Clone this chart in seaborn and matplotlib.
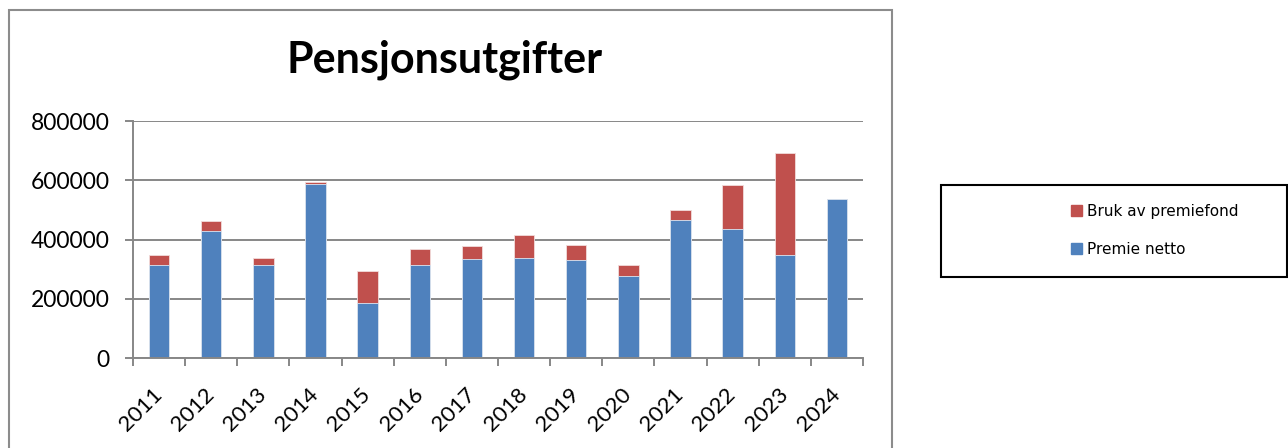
import matplotlib
matplotlib.use('Agg')
import matplotlib.pyplot as plt
from matplotlib.patches import Rectangle, Patch
from matplotlib.ticker import FixedLocator
import seaborn as sns
import pandas as pd

# data
years = ['2011', '2012', '2013', '2014', '2015', '2016', '2017',
         '2018', '2019', '2020', '2021', '2022', '2023', '2024']
premie_netto = [314000, 429000, 315000, 587000, 186000, 314000, 335000,
                338000, 331000, 276000, 465000, 436000, 346000, 537000]
bruk_av_premiefond = [32000, 35000, 23000, 7000, 108000, 53000, 42000,
                      76000, 49000, 37000, 34000, 147000, 346000, 0]

blue = '#4F81BD'
red = '#C0504D'
grey = '#878787'

df = pd.DataFrame({
    'year': years,
    'netto': premie_netto,
    'fond': bruk_av_premiefond,
})
df['total'] = df['netto'] + df['fond']

sns.set_style('white')
plt.rcParams['font.family'] = ['Lato', 'DejaVu Sans']
plt.rcParams['text.color'] = 'black'
plt.rcParams['xtick.color'] = 'black'
plt.rcParams['ytick.color'] = 'black'

fig = plt.figure(figsize=(12.88, 4.48), dpi=100)
ax = fig.add_axes([133 / 1288, 1 - 358 / 448, 730 / 1288, 237 / 448])

# stacked bars: total (red) behind, netto (blue) on top
sns.barplot(data=df, x='year', y='total', color=red, width=0.39,
            saturation=1, edgecolor='#f2dcdb', linewidth=0.6, ax=ax)
sns.barplot(data=df, x='year', y='netto', color=blue, width=0.39,
            saturation=1, edgecolor='#dce6f2', linewidth=0.6, ax=ax)

ax.set_xlim(-0.5, len(years) - 0.5)
ax.set_ylim(0, 800000)
ax.set_yticks([0, 200000, 400000, 600000, 800000])
ax.set_yticklabels(['0', '200000', '400000', '600000', '800000'])
ax.set_xlabel('')
ax.set_ylabel('')

ax.yaxis.grid(True, color=grey, linewidth=1.4)
ax.xaxis.grid(False)
ax.set_axisbelow(True)

for s in ['top', 'right']:
    ax.spines[s].set_visible(False)
for s in ['left', 'bottom']:
    ax.spines[s].set_color(grey)
    ax.spines[s].set_linewidth(1.4)

# ticks between categories on x
ax.xaxis.set_minor_locator(FixedLocator([i - 0.5 for i in range(len(years) + 1)]))
ax.tick_params(axis='x', which='minor', length=6, width=1.4, color=grey, bottom=True)
ax.tick_params(axis='x', which='major', length=0, pad=24, labelsize=16)
ax.tick_params(axis='y', length=6, width=1.4, color=grey, left=True, pad=11, labelsize=16.5)
for lab in ax.get_xticklabels():
    lab.set_rotation(45)
    lab.set_ha('right')
    lab.set_va('center')
    lab.set_rotation_mode('anchor')

fig.text(445 / 1288, 1 - 60 / 448, 'Pensjonsutgifter', fontsize=31,
         fontweight='bold', ha='center', va='center', color='black')

# outer chart frame
fig.patches.append(Rectangle((9 / 1288, -0.1), 883 / 1288, 1.1 - 10 / 448,
                             transform=fig.transFigure, fill=False,
                             edgecolor='#8c8c8c', linewidth=1.5))
# legend frame
fig.patches.append(Rectangle((941 / 1288, 1 - 277 / 448), 346 / 1288, 92 / 448,
                             transform=fig.transFigure, fill=False,
                             edgecolor='black', linewidth=1.5))

handles = [Patch(color=red, label='Bruk av premiefond'),
           Patch(color=blue, label='Premie netto')]
fig.legend(handles=handles, loc='upper left',
           bbox_to_anchor=(1071 / 1288, 1 - 204 / 448),
           frameon=False, borderpad=0, borderaxespad=0,
           handlelength=0.75, handleheight=0.75, handletextpad=0.3,
           labelspacing=1.5, labelcolor='black',
           prop={'family': 'DejaVu Sans', 'size': 11})

fig.savefig('out.png', dpi=100)
